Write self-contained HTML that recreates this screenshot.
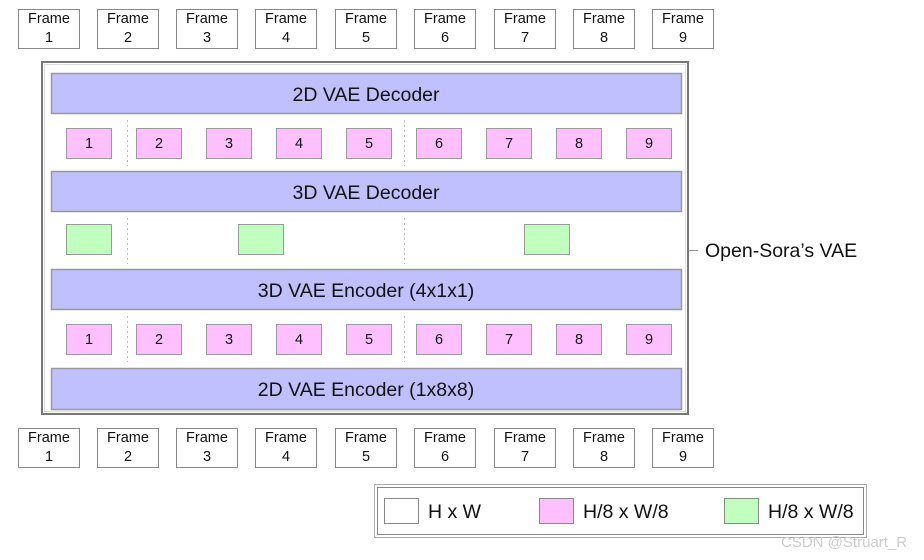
<!DOCTYPE html>
<html><head><style>
body{margin:0;background:#fff;}
svg text{font-family:"Liberation Sans",Arial,sans-serif;fill:#111;}
</style></head><body>
<svg width="924" height="555" viewBox="0 0 924 555" xmlns="http://www.w3.org/2000/svg">
<g id="topframes" font-size="14.5">
<g stroke="#888" fill="#fff" stroke-width="1">
<rect x="18.5" y="9.5" width="61" height="39"/><rect x="97.5" y="9.5" width="61" height="39"/><rect x="176.5" y="9.5" width="61" height="39"/><rect x="255.5" y="9.5" width="61" height="39"/><rect x="335.5" y="9.5" width="61" height="39"/><rect x="414.5" y="9.5" width="61" height="39"/><rect x="494.5" y="9.5" width="61" height="39"/><rect x="573.5" y="9.5" width="61" height="39"/><rect x="652.5" y="9.5" width="61" height="39"/>
</g>
<g text-anchor="middle">
<text x="49" y="23">Frame</text><text x="49" y="42">1</text>
<text x="128" y="23">Frame</text><text x="128" y="42">2</text>
<text x="207" y="23">Frame</text><text x="207" y="42">3</text>
<text x="286" y="23">Frame</text><text x="286" y="42">4</text>
<text x="366" y="23">Frame</text><text x="366" y="42">5</text>
<text x="445" y="23">Frame</text><text x="445" y="42">6</text>
<text x="525" y="23">Frame</text><text x="525" y="42">7</text>
<text x="604" y="23">Frame</text><text x="604" y="42">8</text>
<text x="683" y="23">Frame</text><text x="683" y="42">9</text>
</g></g>
<use href="#topframes" y="419"/>

<rect x="42" y="62" width="646" height="352" fill="#fff" stroke="#777" stroke-width="2"/>
<rect x="44.5" y="64.5" width="641" height="347" fill="none" stroke="#ddd" stroke-width="1"/>

<g fill="#c0c0ff" stroke="#999" stroke-width="1.5">
<rect x="51.5" y="73.5" width="630" height="40"/>
<rect x="51.5" y="171.5" width="630" height="40"/>
<rect x="51.5" y="269.5" width="630" height="40"/>
<rect x="51.5" y="368.5" width="630" height="41"/>
</g>
<g font-size="19.5" text-anchor="middle">
<text x="366" y="101">2D VAE Decoder</text>
<text x="366" y="199">3D VAE Decoder</text>
<text x="366" y="297">3D VAE Encoder (4x1x1)</text>
<text x="366" y="396">2D VAE Encoder (1x8x8)</text>
</g>

<g stroke="#bbb" stroke-width="1" stroke-dasharray="2,3">
<line x1="127.5" y1="120" x2="127.5" y2="166"/><line x1="404.5" y1="120" x2="404.5" y2="166"/>
<line x1="127.5" y1="218" x2="127.5" y2="264"/><line x1="404.5" y1="218" x2="404.5" y2="264"/>
<line x1="127.5" y1="316" x2="127.5" y2="362"/><line x1="404.5" y1="316" x2="404.5" y2="362"/>
</g>

<g id="pinkrow">
<g fill="#ffc0ff" stroke="#999" stroke-width="1">
<rect x="66.5" y="128.5" width="45" height="30"/><rect x="136.5" y="128.5" width="45" height="30"/><rect x="206.5" y="128.5" width="45" height="30"/><rect x="276.5" y="128.5" width="45" height="30"/><rect x="346.5" y="128.5" width="45" height="30"/><rect x="416.5" y="128.5" width="45" height="30"/><rect x="486.5" y="128.5" width="45" height="30"/><rect x="556.5" y="128.5" width="45" height="30"/><rect x="626.5" y="128.5" width="45" height="30"/>
</g>
<g font-size="14.5" text-anchor="middle">
<text x="89" y="148">1</text><text x="159" y="148">2</text><text x="229" y="148">3</text><text x="299" y="148">4</text><text x="369" y="148">5</text><text x="439" y="148">6</text><text x="509" y="148">7</text><text x="579" y="148">8</text><text x="649" y="148">9</text>
</g></g>
<use href="#pinkrow" y="196"/>

<g fill="#c0ffc0" stroke="#999" stroke-width="1">
<rect x="66.5" y="224.5" width="45" height="30"/><rect x="238.5" y="224.5" width="45" height="30"/><rect x="524.5" y="224.5" width="45" height="30"/>
</g>

<line x1="689" y1="250.5" x2="698" y2="250.5" stroke="#999"/>
<text x="705" y="257" font-size="19.5">Open-Sora’s VAE</text>

<rect x="374.5" y="484.5" width="492" height="53" fill="#fff" stroke="#aaa"/>
<rect x="377.5" y="487.5" width="486" height="47" fill="none" stroke="#888"/>
<rect x="384.5" y="498.5" width="34" height="25" fill="#fff" stroke="#888"/>
<rect x="539.5" y="498.5" width="34" height="25" fill="#ffc0ff" stroke="#888"/>
<rect x="724.5" y="498.5" width="34" height="25" fill="#c0ffc0" stroke="#888"/>
<g font-size="19.5">
<text x="428" y="518">H x W</text>
<text x="583" y="518">H/8 x W/8</text>
<text x="768" y="518">H/8 x W/8</text>
</g>
<text x="781" y="547" font-size="15" style="fill:#ccc">CSDN @Struart_R</text>
</svg>
</body></html>
